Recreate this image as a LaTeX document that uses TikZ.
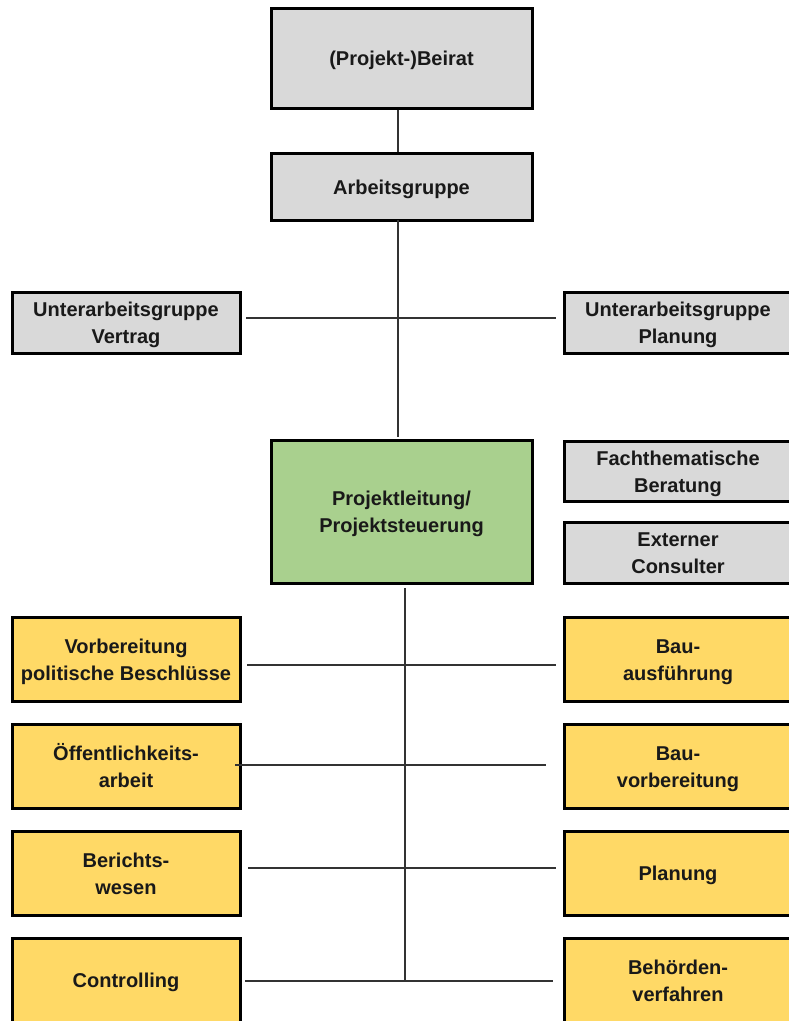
\documentclass[tikz,border=0pt]{standalone}
\usepackage{fontspec}
\setmainfont{Liberation Sans}
\definecolor{boxgray}{HTML}{D9D9D9}
\definecolor{boxgreen}{HTML}{A9D08E}
\definecolor{boxyellow}{HTML}{FFD966}
\definecolor{linegray}{HTML}{333333}
\newcommand\bxt[1]{\raisebox{-2.5pt}[\height][\depth]{\begin{tabular}{@{}c@{}}#1\end{tabular}}}
\begin{document}
\begin{tikzpicture}[x=1pt,y=-1pt,
  box/.style={draw=black, line width=3pt, inner sep=0pt,
    font=\bfseries\fontsize{20}{27}\selectfont, text=black!90},
  graybox/.style={box, fill=boxgray},
  greenbox/.style={box, fill=boxgreen},
  yellowbox/.style={box, fill=boxyellow, minimum width=228pt, minimum height=84pt},
  conn/.style={draw=linegray, line width=1.5pt}]
\useasboundingbox (0,0) rectangle (789,1021);
\begin{scope}
\clip (0,0) rectangle (789,1021);
% top
\node[graybox, minimum width=261pt, minimum height=100pt] (beirat) at (401.5,58) {\bxt{(Projekt-)Beirat}};
\node[graybox, minimum width=261pt, minimum height=67pt] (ag) at (401.5,186.5) {\bxt{Arbeitsgruppe}};
\node[graybox, minimum width=228pt, minimum height=61pt] (uagv) at (126,322.5) {\bxt{Unterarbeitsgruppe\\Vertrag}};
\node[graybox, minimum width=228pt, minimum height=61pt] (uagp) at (678,322.5) {\bxt{Unterarbeitsgruppe\\Planung}};
\node[greenbox, minimum width=261pt, minimum height=143pt] (pl) at (401.5,511.5) {\bxt{Projektleitung/\\Projektsteuerung}};
\node[graybox, minimum width=228pt, minimum height=60pt] (fach) at (678,471) {\bxt{Fachthematische\\Beratung}};
\node[graybox, minimum width=228pt, minimum height=61pt] (ext) at (678,552.5) {\bxt{Externer\\Consulter}};
% yellow boxes
\node[yellowbox] (l1) at (126,659) {\bxt{Vorbereitung\\politische Beschlüsse}};
\node[yellowbox] (l2) at (126,766) {\bxt{Öffentlichkeits-\\arbeit}};
\node[yellowbox] (l3) at (126,873) {\bxt{Berichts-\\wesen}};
\node[yellowbox] (l4) at (126,980) {\bxt{Controlling}};
\node[yellowbox] (r1) at (678,659) {\bxt{Bau-\\ausführung}};
\node[yellowbox] (r2) at (678,766) {\bxt{Bau-\\vorbereitung}};
\node[yellowbox] (r3) at (678,873) {\bxt{Planung}};
\node[yellowbox] (r4) at (678,980) {\bxt{Behörden-\\verfahren}};
\end{scope}
% connector end points
\coordinate (u1) at (398,220);
\coordinate (u2) at (398,437);
\coordinate (h0l) at (246,318);
\coordinate (h0r) at (556,318);
\coordinate (v1) at (405,588);
\coordinate (v2) at (405,981);
\coordinate (h1l) at (247,665);
\coordinate (h1r) at (556,665);
\coordinate (h2l) at (235,765);
\coordinate (h2r) at (546,765);
\coordinate (h3l) at (248,868);
\coordinate (h3r) at (556,868);
\coordinate (h4l) at (245,981);
\coordinate (h4r) at (553,981);
% connectors
\draw[conn] (beirat.south -| u1) -- (ag.north -| u1);
\draw[conn] (u1) -- (u2);
\draw[conn] (h0l) -- (h0r);
\draw[conn] (v1) -- (v2);
\draw[conn] (h1l) -- (h1r);
\draw[conn] (h2l) -- (h2r);
\draw[conn] (h3l) -- (h3r);
\draw[conn] (h4l) -- (h4r);
\end{tikzpicture}
\end{document}
